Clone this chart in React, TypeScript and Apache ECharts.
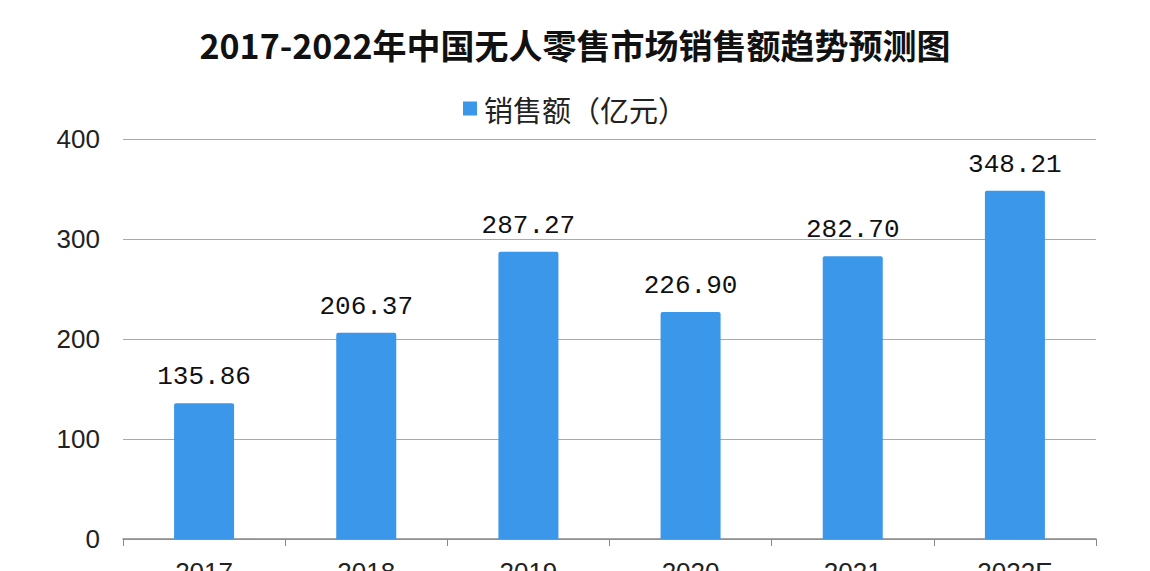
import React, { useEffect, useRef } from "react";
import * as echarts from "echarts";

const titleText = "2017-2022年中国无人零售市场销售额趋势预测图";
const seriesName = "销售额（亿元）";
const categories = ["2017", "2018", "2019", "2020", "2021", "2022E"];
const salesValues = [135.86, 206.37, 287.27, 226.9, 282.7, 348.21];
const yTicks = { min: 0, max: 400, interval: 100 };

export default function App() {
  const ref = useRef<HTMLDivElement>(null);
  useEffect(() => {
    if (!ref.current) return;
    const chart = echarts.init(ref.current, null, { renderer: "svg" });
    chart.setOption({
      animation: false,
      backgroundColor: "#ffffff",
      title: {
        text: titleText,
        left: "center",
        top: 22,
        textStyle: {
          fontFamily: "Noto Sans CJK SC",
          fontWeight: "bold",
          fontSize: 34,
          color: "#111111",
        },
      },
      legend: {
        top: 89,
        left: "center",
        itemWidth: 14,
        itemHeight: 14,
        itemGap: 10,
        icon: "rect",
        textStyle: {
          fontFamily: "Noto Sans CJK SC",
          fontSize: 29,
          color: "#222222",
          padding: [0, 0, 0, 2],
        },
        data: [seriesName],
      },
      grid: {
        left: 123,
        right: 54,
        top: 139,
        bottom: 32,
        containLabel: false,
        outerBoundsMode: "none",
      },
      xAxis: {
        type: "category",
        data: categories,
        axisLine: { lineStyle: { color: "#888888", width: 1.5 } },
        axisTick: { show: true, alignWithLabel: false, length: 7, lineStyle: { color: "#888888" } },
        axisLabel: {
          fontFamily: "Liberation Sans",
          fontSize: 26,
          color: "#222222",
          margin: 20,
        },
      },
      yAxis: {
        type: "value",
        min: yTicks.min,
        max: yTicks.max,
        interval: yTicks.interval,
        axisLine: { show: false },
        axisTick: { show: false },
        splitLine: { lineStyle: { color: "#aaaaaa", width: 1 } },
        axisLabel: {
          fontFamily: "Liberation Sans",
          fontSize: 26,
          color: "#222222",
          margin: 23,
        },
      },
      series: [
        {
          name: seriesName,
          type: "bar",
          data: salesValues,
          barWidth: "37%",
          itemStyle: { color: "#3a97e9", borderRadius: [2, 2, 0, 0] },
          label: {
            show: true,
            position: "top",
            distance: 13,
            fontFamily: "Liberation Mono",
            fontSize: 26,
            color: "#111111",
            formatter: (p: any) => p.value.toFixed(2),
          },
        },
      ],
    });
    return () => chart.dispose();
  }, []);
  return (
    <div
      ref={ref}
      style={{ position: "absolute", left: 0, top: 0, width: 1150, height: 571 }}
    />
  );
}
